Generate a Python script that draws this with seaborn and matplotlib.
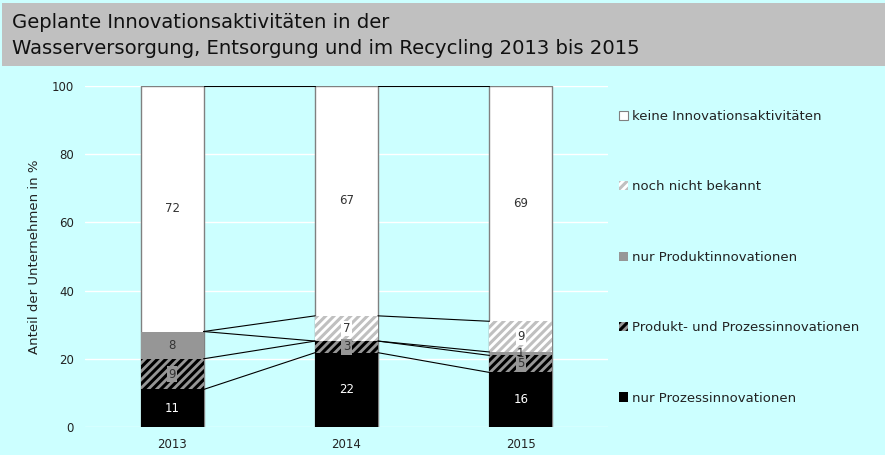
import pandas as pd
import seaborn as sns
import matplotlib.pyplot as plt
from matplotlib.patches import Patch, Rectangle

# data (percent of companies), stacked bottom -> top
years = ["2013", "2014", "2015"]
nur_prozess = [11, 21.8, 16]
produkt_und_prozess = [9, 3.4, 5]
nur_produkt = [8, 0, 1]
noch_nicht_bekannt = [0, 7.4, 9]
keine = [72, 67.4, 69]

labels = ["nur Prozessinnovationen", "Produkt- und Prozessinnovationen",
          "nur Produktinnovationen", "noch nicht bekannt",
          "keine Innovationsaktivitäten"]

# face, hatch colour, hatch, text colour, label box
styles = {
    "nur Prozessinnovationen": ("#000000", "#000000", "", "white", None),
    "Produkt- und Prozessinnovationen": ("#969696", "#000000", "////", "#333333", "#969696"),
    "nur Produktinnovationen": ("#969696", "#969696", "", "#333333", None),
    "noch nicht bekannt": ("#ffffff", "#c0c0c0", "////", "#333333", "#ffffff"),
    "keine Innovationsaktivitäten": ("#ffffff", "#808080", "", "#333333", None),
}

BG = "#ccffff"
BAR_W = 0.36

sns.set_theme(style="white")
plt.rcParams["font.family"] = ["DejaVu Sans"]
plt.rcParams["hatch.linewidth"] = 2.2

df = pd.DataFrame({"Jahr": years})
for name, vals in zip(labels, [nur_prozess, produkt_und_prozess, nur_produkt,
                               noch_nicht_bekannt, keine]):
    df[name] = vals
cum = df[labels].cumsum(axis=1)

fig = plt.figure(figsize=(8.85, 4.55), dpi=100, facecolor=BG)
fig.patches.append(Rectangle((2 / 885, 1 - 66 / 455), 1, 63 / 455,
                             transform=fig.transFigure, facecolor="#c0c0c0",
                             edgecolor="none", zorder=0))
fig.text(12 / 885, 1 - 22 / 455, "Geplante Innovationsaktivitäten in der",
         fontsize=14.1, va="center", color="#111111")
fig.text(12 / 885, 1 - 49 / 455,
         "Wasserversorgung, Entsorgung und im Recycling 2013 bis 2015",
         fontsize=14.1, va="center", color="#111111")

ax = fig.add_axes([85 / 885, 1 - 427 / 455, 523 / 885, 341 / 455])
ax.set_facecolor(BG)

# overlapping cumulative bars, tallest first
for name in reversed(labels):
    face, hc, hatch, _, _ = styles[name]
    lw = 1.0 if name == labels[-1] else 0
    sns.barplot(x=df["Jahr"], y=cum[name], color=face, saturation=1,
                width=BAR_W, errorbar=None, ax=ax, hatch=hatch,
                edgecolor=hc, linewidth=lw)

# series lines between bars
for name in labels:
    tops = cum[name].values
    for i in range(len(years) - 1):
        ax.plot([i + BAR_W / 2, i + 1 - BAR_W / 2], [tops[i], tops[i + 1]],
                color="black", lw=0.8, zorder=3)

# value labels
for name in labels:
    _, _, _, tc, box = styles[name]
    for i in range(len(years)):
        v = df[name][i]
        if v < 0.5:
            continue
        y = cum[name][i] - v / 2
        bbox = dict(facecolor=box, edgecolor="none", pad=1) if box else None
        ax.text(i, y, f"{v:.0f}", ha="center", va="center", fontsize=8.5,
                color=tc, bbox=bbox, zorder=4)

ax.set_xlim(-0.5, 2.5)
ax.set_ylim(0, 100)
ax.set_yticks(range(0, 101, 20))
ax.yaxis.grid(True, color="white", lw=1)
ax.set_axisbelow(True)
sns.despine(ax=ax, left=True, bottom=True)
ax.tick_params(length=0, labelsize=8.5, colors="#222222")
ax.tick_params(axis="y", pad=8)
ax.tick_params(axis="x", pad=8)
ax.set_xlabel("")
ax.set_ylabel("Anteil der Unternehmen in %", fontsize=9.5, color="#222222")
ax.yaxis.set_label_coords(-0.085, 0.5)

handles = []
for name in reversed(labels):
    face, hc, hatch, _, _ = styles[name]
    lw = 0.8 if name == labels[-1] else 0
    handles.append(Patch(facecolor=face, edgecolor=hc, hatch=hatch, linewidth=lw))
fig.legend(handles, list(reversed(labels)), loc="upper left",
           bbox_to_anchor=(619 / 885, 1 - 110 / 455), frameon=False,
           fontsize=9.5, handlelength=0.7, handleheight=0.7,
           handletextpad=0.25, labelspacing=4.35, borderpad=0,
           borderaxespad=0, labelcolor="#222222")

fig.savefig("out.png", dpi=100, facecolor=BG)
